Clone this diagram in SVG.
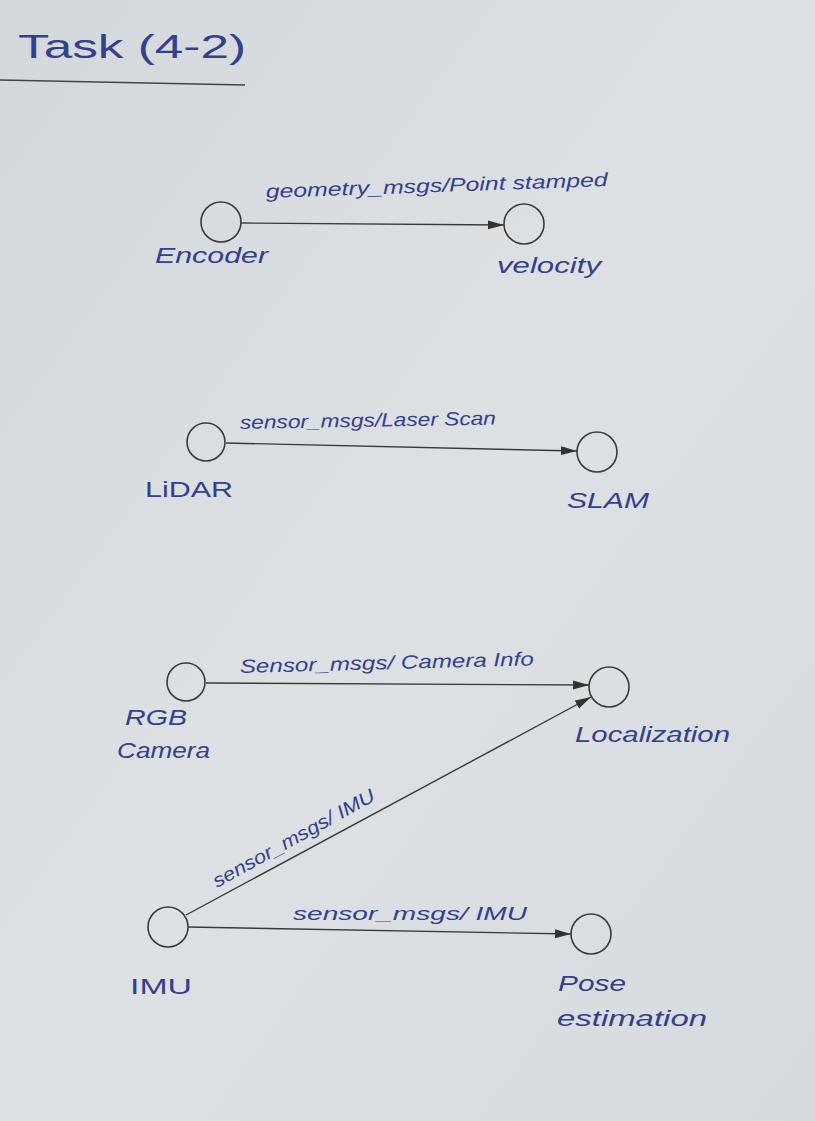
<svg xmlns="http://www.w3.org/2000/svg" width="815" height="1121" viewBox="0 0 815 1121">
<defs>
<linearGradient id="paper" x1="0" y1="0" x2="1" y2="1">
<stop offset="0" stop-color="#d3d8dc"/>
<stop offset="0.5" stop-color="#dde1e4"/>
<stop offset="1" stop-color="#d6dbdf"/>
</linearGradient>
<marker id="arr" viewBox="0 0 16 10" refX="16" refY="5" markerWidth="16" markerHeight="10" markerUnits="userSpaceOnUse" orient="auto">
<path d="M0,0.5 L16,5 L0,9.5 Z" fill="#333"/>
</marker>
<style>
.node{fill:none;stroke:#3a3a3a;stroke-width:1.6}
.edge{stroke:#3a3a3a;stroke-width:1.4;fill:none;marker-end:url(#arr)}
.lbl{font-family:"Liberation Sans","DejaVu Sans",sans-serif;font-style:italic;fill:#34408c}
.up{font-style:normal}
.nl{font-size:22px}
.el{font-size:19px}
</style>
</defs>
<rect width="815" height="1121" fill="url(#paper)"/>
<g id="title">
<text class="lbl up" x="18" y="58" font-size="34" fill="#2c3170" textLength="228" lengthAdjust="spacingAndGlyphs">Task (4-2)</text>
<line x1="0" y1="80" x2="245" y2="85" stroke="#444" stroke-width="1.5"/>
</g>
<g id="connectors">
<line class="edge" x1="241" y1="223" x2="504" y2="225"/>
<text class="lbl el" x="266" y="198" textLength="342" lengthAdjust="spacingAndGlyphs" transform="rotate(-2 266 198)">geometry_msgs/Point stamped</text>
<line class="edge" x1="226" y1="443" x2="577" y2="451"/>
<text class="lbl el" x="240" y="429" textLength="256" lengthAdjust="spacingAndGlyphs" transform="rotate(-1 240 429)">sensor_msgs/Laser Scan</text>
<line class="edge" x1="206" y1="683" x2="589" y2="685"/>
<text class="lbl el" x="240" y="673" textLength="294" lengthAdjust="spacingAndGlyphs" transform="rotate(-1.5 240 673)">Sensor_msgs/ Camera Info</text>
<line class="edge" x1="186" y1="915" x2="591" y2="697"/>
<text class="lbl el" x="217" y="888" textLength="182" lengthAdjust="spacingAndGlyphs" transform="rotate(-29 217 888)">sensor_msgs/ IMU</text>
<line class="edge" x1="188" y1="927" x2="571" y2="934"/>
<text class="lbl el" x="293" y="920" textLength="234" lengthAdjust="spacingAndGlyphs">sensor_msgs/ IMU</text>
</g>
<g id="encoder">
<circle class="node" cx="221" cy="222" r="20"/>
<text class="lbl nl" x="155" y="263" textLength="113" lengthAdjust="spacingAndGlyphs">Encoder</text>
</g>
<g id="velocity">
<circle class="node" cx="524" cy="224" r="20"/>
<text class="lbl nl" x="497" y="273" textLength="104" lengthAdjust="spacingAndGlyphs">velocity</text>
</g>
<g id="lidar">
<circle class="node" cx="206" cy="442" r="19"/>
<text class="lbl nl up" x="145" y="497" textLength="88" lengthAdjust="spacingAndGlyphs">LiDAR</text>
</g>
<g id="slam">
<circle class="node" cx="597" cy="452" r="20"/>
<text class="lbl nl" x="567" y="508" textLength="82" lengthAdjust="spacingAndGlyphs">SLAM</text>
</g>
<g id="rgb-camera">
<circle class="node" cx="186" cy="682" r="19"/>
<text class="lbl nl" x="125" y="725" textLength="62" lengthAdjust="spacingAndGlyphs">RGB</text>
<text class="lbl nl" x="117" y="758" textLength="93" lengthAdjust="spacingAndGlyphs">Camera</text>
</g>
<g id="localization">
<circle class="node" cx="609" cy="687" r="20"/>
<text class="lbl nl" x="575" y="742" textLength="155" lengthAdjust="spacingAndGlyphs">Localization</text>
</g>
<g id="imu">
<circle class="node" cx="168" cy="927" r="20"/>
<text class="lbl nl up" x="130" y="994" textLength="62" lengthAdjust="spacingAndGlyphs">IMU</text>
</g>
<g id="pose-estimation">
<circle class="node" cx="591" cy="934" r="20"/>
<text class="lbl nl" x="558" y="991" textLength="68" lengthAdjust="spacingAndGlyphs">Pose</text>
<text class="lbl nl" x="557" y="1026" textLength="150" lengthAdjust="spacingAndGlyphs">estimation</text>
</g>
</svg>
